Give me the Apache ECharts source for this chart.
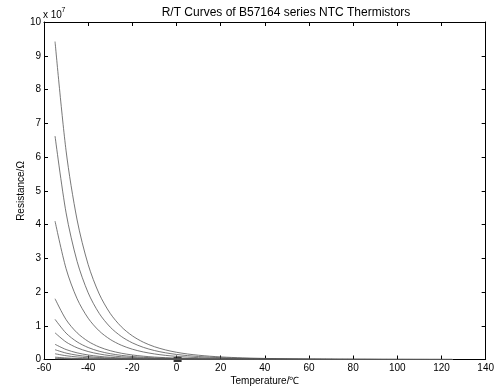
<!DOCTYPE html>
<html><head><meta charset="utf-8">
<script src="https://cdn.jsdelivr.net/npm/echarts@6/dist/echarts.min.js"></script>
<style>html,body{margin:0;padding:0;background:#fff}#c{width:497px;height:388px}</style>
</head><body><div id="c"></div>
<script>
// Temperatures (°C)
const temperatures = [-55,-50,-45,-40,-35,-30,-25,-20,-15,-10,-5,0,5,10,15,20,25,30,40,50,60,70,80,90,100,110,125];
// Resistance values, in units of 10^7 Ω
const curve1 = [9.42,6.182,4.133,2.812,1.943,1.364,0.971,0.701,0.512,0.379,0.284,0.214,0.163,0.126,0.098,0.0769,0.0608,0.0484,0.0315,0.0210,0.0143,0.0100,0.0071,0.0052,0.0038,0.0029,0.0019];
const curve2 = [6.62,4.345,2.905,1.976,1.366,0.959,0.683,0.493,0.360,0.266,0.199,0.150,0.115,0.0885,0.0688,0.0540,0.0427,0.0340,0.0221,0.0148,0.0101,0.0070,0.0050,0.0036,0.0027,0.0020,0.0014];
const curve3 = [4.10,2.691,1.799,1.224,0.846,0.594,0.423,0.305,0.223,0.165,0.123,0.0931,0.0711,0.0548,0.0426,0.0335,0.0264,0.0211,0.0137,0.0091,0.0062,0.0043,0.0031,0.0023,0.0017,0.0013,0.0008];
const curve4 = [1.80,1.181,0.790,0.537,0.371,0.261,0.186,0.134,0.0979,0.0724,0.0542,0.0409,0.0312,0.0241,0.0187,0.0147,0.0116,0.0093,0.0060,0.0040,0.0027,0.0019,0.0014,0.0010,0.0007,0.0005,0.0004];
const curve5 = [1.19,0.781,0.522,0.355,0.245,0.172,0.123,0.0885,0.0647,0.0478,0.0358,0.0270,0.0206,0.0159,0.0124,0.0097,0.0077,0.0061,0.0040,0.0027,0.0018,0.0013,0.0009,0.0007,0.0005,0.0004,0.0002];
const curve6 = [0.79,0.518,0.347,0.236,0.163,0.114,0.0814,0.0588,0.0430,0.0318,0.0238,0.0179,0.0137,0.0106,0.0082,0.0064,0.0051,0.0041,0.0026,0.0018,0.0012,0.0008,0.0006,0.0004,0.0003,0.0002,0.0002];
const curve7 = [0.45,0.295,0.197,0.134,0.0928,0.0652,0.0464,0.0335,0.0245,0.0181,0.0135,0.0102,0.0078,0.0060,0.0047,0.0037,0.0029,0.0023,0.0015,0.0010,0.0007,0.0005,0.0003,0.0002,0.0002,0.0001,0.0001];
const curve8 = [0.29,0.190,0.127,0.0866,0.0598,0.0420,0.0299,0.0216,0.0158,0.0117,0.0087,0.0066,0.0050,0.0039,0.0030,0.0024,0.0019,0.0015,0.0010,0.0006,0.0004,0.0003,0.0002,0.0002,0.0001,0.0001,0.0001];
const curve9 = [0.17,0.112,0.0746,0.0507,0.0351,0.0246,0.0175,0.0126,0.0092,0.0068,0.0051,0.0039,0.0029,0.0023,0.0018,0.0014,0.0011,0.0009,0.0006,0.0004,0.0003,0.0002,0.0001,0.0001,0.0001,0.0001,0];
const curve10 = [0.07,0.0459,0.0307,0.0209,0.0144,0.0101,0.0072,0.0052,0.0038,0.0028,0.0021,0.0016,0.0012,0.0009,0.0007,0.0006,0.0005,0.0004,0.0002,0.0002,0.0001,0.0001,0.0001,0,0,0,0];
const curve11 = [0.04,0.0263,0.0176,0.0119,0.0083,0.0058,0.0041,0.0030,0.0022,0.0016,0.0012,0.0009,0.0007,0.0005,0.0004,0.0003,0.0003,0.0002,0.0001,0.0001,0.0001,0,0,0,0,0,0];
const curve12 = [0.02,0.0131,0.0088,0.0060,0.0041,0.0029,0.0021,0.0015,0.0011,0.0008,0.0006,0.0005,0.0003,0.0003,0.0002,0.0002,0.0001,0.0001,0.0001,0,0,0,0,0,0,0,0];
const curves = [curve1,curve2,curve3,curve4,curve5,curve6,curve7,curve8,curve9,curve10,curve11,curve12];
// dark marker blob visible near 0 °C on the axis
const markerT = [0.5];
const markerR = [0];

const titleText = 'R/T Curves of B57164 series NTC Thermistors';
const xName = 'Temperature/℃';
const yName = 'Resistance/Ω';

const FONT = 'Arial, "Liberation Sans", Helvetica, sans-serif';
const chart = echarts.init(document.getElementById('c'), null, {renderer:'canvas'});

function axisCommon(){
  return {
    axisLine:{show:true, onZero:false, lineStyle:{color:'#000', width:1}},
    axisTick:{show:true, inside:true, length:4, lineStyle:{color:'#000'}},
    splitLine:{show:false}
  };
}

const series = curves.map((c, k) => ({
  type:'line', name:'c'+k, xAxisIndex:0, yAxisIndex:0,
  data: temperatures.map((t,i)=>[t, c[i]]),
  showSymbol:false, smooth:0.3,
  lineStyle:{color:'#555', width:0.8}, silent:true
}));
series.push({
  type:'scatter', xAxisIndex:0, yAxisIndex:0,
  data: markerT.map((t,i)=>[t, markerR[i]]),
  symbol:'rect', symbolSize:[8,5], itemStyle:{color:'#000'}, silent:true
});

chart.setOption({
  animation:false,
  backgroundColor:'#fff',
  grid:{left:44, right:11, top:22, bottom:28.5, containLabel:false},
  xAxis:[
    Object.assign({type:'value', position:'bottom', min:-60, max:140, interval:20,
      axisLabel:{color:'#000', fontSize:10, fontFamily:FONT, margin:4}}, axisCommon()),
    Object.assign({type:'value', position:'top', min:-60, max:140, interval:20,
      axisLabel:{show:false}}, axisCommon())
  ],
  yAxis:[
    Object.assign({type:'value', position:'left', min:0, max:10, interval:1,
      axisLabel:{color:'#000', fontSize:10, fontFamily:FONT, margin:3}}, axisCommon()),
    Object.assign({type:'value', position:'right', min:0, max:10, interval:1,
      axisLabel:{show:false}}, axisCommon())
  ],
  series: series,
  graphic:[
    {type:'text', style:{text:titleText, fill:'#000', font:'12px '+FONT, textAlign:'center', textVerticalAlign:'middle'}, position:[286,13]},
    {type:'text', style:{text:xName, fill:'#000', font:'10px '+FONT, textAlign:'center', textVerticalAlign:'middle'}, position:[265,381]},
    {type:'text', style:{text:yName, fill:'#000', font:'10px '+FONT, textAlign:'center', textVerticalAlign:'middle'}, position:[21,191], rotation:Math.PI/2},
    {type:'text', style:{text:'x 10', fill:'#000', font:'10px '+FONT, textAlign:'left', textVerticalAlign:'middle'}, position:[43,15.5]},
    {type:'text', style:{text:'7', fill:'#000', font:'7px '+FONT, textAlign:'left', textVerticalAlign:'middle'}, position:[61.5,10]}
  ]
});
</script></body></html>
